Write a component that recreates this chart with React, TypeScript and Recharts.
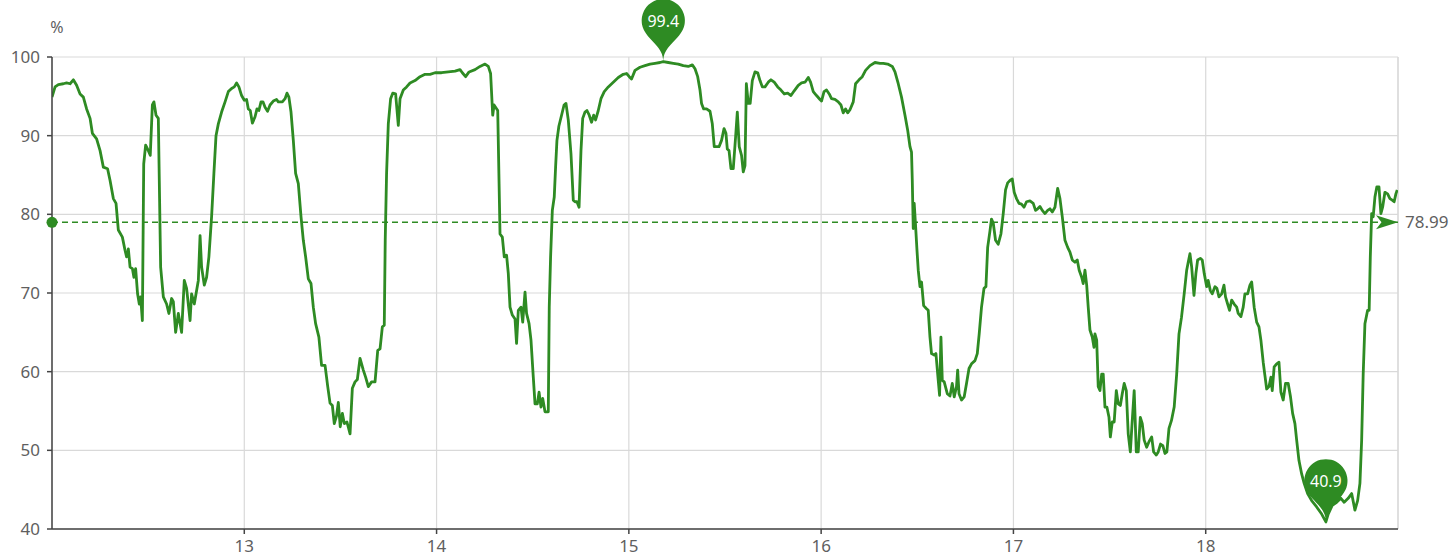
import React from 'react';
import { LineChart, Line, XAxis, YAxis, CartesianGrid, ReferenceLine, ReferenceDot } from 'recharts';

// readings: [day, relative humidity %]
const day12: [number, number][] = [
  [12.0, 94.9], [12.016, 96.2], [12.033, 96.5], [12.059, 96.6], [12.076, 96.7], [12.094, 96.6], [12.111, 97.1], [12.128, 96.4],
  [12.146, 95.3], [12.163, 94.9], [12.18, 93.4], [12.198, 92.2], [12.21, 90.3], [12.232, 89.6], [12.25, 88.1], [12.267, 86.0],
  [12.289, 85.8], [12.302, 84.3], [12.319, 82.0], [12.333, 81.4], [12.345, 78.0], [12.366, 77.1], [12.38, 75.4], [12.388, 74.6],
  [12.397, 75.6], [12.406, 73.3], [12.418, 73.1], [12.426, 72.0], [12.435, 73.1], [12.445, 69.9], [12.454, 68.6], [12.461, 69.5],
  [12.47, 66.5], [12.477, 86.4], [12.487, 88.8], [12.501, 88.1], [12.511, 87.5], [12.522, 93.9], [12.53, 94.3], [12.541, 92.6],
  [12.553, 92.2], [12.565, 73.3], [12.579, 69.5], [12.596, 68.6], [12.608, 67.4], [12.622, 69.3], [12.631, 68.9], [12.643, 65.0],
  [12.657, 67.4], [12.674, 65.0], [12.688, 71.6], [12.7, 70.6], [12.718, 66.5], [12.726, 69.9], [12.74, 68.6], [12.761, 71.6],
  [12.77, 77.3], [12.778, 73.3], [12.792, 71.0], [12.804, 72.0], [12.816, 74.6], [12.83, 79.7], [12.842, 85.2], [12.853, 90.0],
  [12.865, 91.5], [12.882, 93.0], [12.9, 94.3], [12.917, 95.6], [12.934, 96.0], [12.948, 96.2], [12.96, 96.7], [12.972, 96.2],
  [12.986, 95.1],
];
const day13: [number, number][] = [
  [13.0, 94.5], [13.012, 94.6], [13.021, 93.4], [13.031, 93.2], [13.042, 91.6], [13.056, 92.4], [13.066, 93.4], [13.076, 93.2],
  [13.087, 94.3], [13.097, 94.3], [13.108, 93.6], [13.121, 93.1], [13.134, 93.9], [13.151, 94.4], [13.168, 94.6], [13.177, 94.3],
  [13.198, 94.3], [13.212, 94.7], [13.222, 95.4], [13.232, 94.9], [13.243, 93.0], [13.255, 89.4], [13.267, 85.2], [13.281, 83.9],
  [13.295, 79.7], [13.307, 76.7], [13.319, 74.6], [13.333, 71.8], [13.347, 71.2], [13.359, 68.2], [13.371, 66.1], [13.388, 64.4],
  [13.402, 60.8], [13.42, 60.8], [13.434, 58.1], [13.446, 56.0], [13.458, 55.7], [13.468, 53.4], [13.48, 54.4], [13.489, 56.1],
  [13.499, 53.0], [13.51, 54.7], [13.52, 53.4], [13.534, 53.6], [13.55, 52.1], [13.562, 57.9], [13.576, 58.7], [13.588, 59.0],
  [13.602, 61.7], [13.619, 60.2], [13.631, 59.3], [13.645, 58.1], [13.662, 58.7], [13.68, 58.7], [13.694, 62.7], [13.706, 62.9],
  [13.718, 65.7], [13.728, 65.9], [13.733, 76.7], [13.74, 85.2], [13.749, 91.5], [13.761, 94.7], [13.772, 95.4], [13.787, 95.3],
  [13.801, 91.3], [13.81, 94.7], [13.827, 95.8], [13.844, 96.2], [13.862, 96.7], [13.888, 97.0], [13.914, 97.5], [13.94, 97.8],
  [13.966, 97.8], [13.992, 98.0],
];
const day14: [number, number][] = [
  [14.026, 98.0], [14.061, 98.1], [14.096, 98.2], [14.122, 98.4], [14.134, 98.0], [14.151, 97.5], [14.169, 98.1], [14.2, 98.4],
  [14.226, 98.8], [14.252, 99.1], [14.269, 98.8], [14.281, 97.9], [14.292, 92.6], [14.299, 93.9], [14.318, 93.2], [14.33, 77.5],
  [14.342, 77.1], [14.352, 74.6], [14.364, 74.8], [14.373, 72.5], [14.382, 68.2], [14.394, 67.2], [14.408, 66.7], [14.416, 63.6],
  [14.425, 67.8], [14.439, 68.2], [14.448, 66.3], [14.46, 70.1], [14.468, 67.4], [14.481, 66.1], [14.491, 64.0], [14.503, 59.3],
  [14.512, 55.9], [14.524, 55.9], [14.533, 57.4], [14.543, 55.5], [14.552, 56.6], [14.564, 54.9], [14.581, 54.9], [14.586, 68.2],
  [14.593, 74.6], [14.602, 80.5], [14.612, 82.2], [14.619, 86.0], [14.626, 89.4], [14.636, 91.2], [14.65, 92.6], [14.663, 93.9],
  [14.673, 94.1], [14.685, 92.0], [14.699, 87.7], [14.711, 81.8], [14.72, 81.6], [14.73, 81.6], [14.741, 80.9], [14.751, 88.1],
  [14.76, 92.2], [14.772, 93.0], [14.782, 93.2], [14.794, 92.6], [14.806, 91.7], [14.817, 92.6], [14.827, 92.0], [14.841, 93.2],
  [14.855, 94.7], [14.872, 95.6], [14.893, 96.2], [14.919, 96.8], [14.945, 97.4], [14.971, 97.8], [14.988, 97.9],
];
const day15: [number, number][] = [
  [15.002, 97.5], [15.014, 97.2], [15.032, 98.3], [15.058, 98.7], [15.084, 98.9], [15.11, 99.1], [15.136, 99.2], [15.162, 99.3],
  [15.179, 99.4], [15.205, 99.3], [15.231, 99.2], [15.257, 99.1], [15.283, 98.9], [15.309, 98.8], [15.33, 99.0], [15.344, 98.5],
  [15.358, 97.5], [15.37, 95.8], [15.378, 94.1], [15.389, 93.4], [15.404, 93.4], [15.422, 93.1], [15.434, 91.5], [15.444, 88.6],
  [15.456, 88.6], [15.469, 88.6], [15.482, 89.4], [15.495, 90.9], [15.505, 90.3], [15.512, 88.3], [15.521, 88.1], [15.531, 85.8],
  [15.543, 85.8], [15.555, 89.8], [15.564, 93.0], [15.574, 88.6], [15.586, 87.5], [15.595, 85.4], [15.604, 86.2], [15.611, 96.6],
  [15.621, 94.1], [15.631, 94.1], [15.642, 97.0], [15.656, 98.1], [15.67, 98.0], [15.682, 97.0], [15.694, 96.2], [15.708, 96.2],
  [15.725, 96.8], [15.739, 97.1], [15.756, 96.8], [15.774, 96.2], [15.791, 95.8], [15.808, 95.3], [15.826, 95.4], [15.843, 95.1],
  [15.86, 95.7], [15.881, 96.4], [15.898, 96.7], [15.916, 96.8], [15.933, 97.4], [15.945, 96.8], [15.959, 95.6], [15.976, 95.1],
  [15.994, 94.6],
];
const day16: [number, number][] = [
  [16.002, 94.4], [16.015, 95.6], [16.028, 95.8], [16.042, 95.3], [16.054, 94.7], [16.072, 94.6], [16.089, 94.3], [16.103, 93.9],
  [16.115, 92.9], [16.127, 93.4], [16.138, 92.9], [16.15, 93.3], [16.167, 94.3], [16.179, 96.6], [16.197, 97.1], [16.214, 97.5],
  [16.231, 98.3], [16.254, 98.9], [16.28, 99.3], [16.306, 99.2], [16.323, 99.2], [16.346, 99.1], [16.37, 98.8], [16.384, 98.1],
  [16.401, 96.6], [16.418, 94.9], [16.436, 92.6], [16.45, 90.7], [16.462, 88.6], [16.47, 87.9], [16.474, 84.3], [16.479, 78.2],
  [16.484, 81.4], [16.491, 78.6], [16.498, 75.6], [16.505, 72.9], [16.514, 70.8], [16.522, 71.4], [16.533, 68.4], [16.548, 68.0],
  [16.557, 67.8], [16.566, 64.4], [16.574, 62.3], [16.588, 62.1], [16.597, 62.3], [16.609, 58.9], [16.616, 57.0], [16.623, 64.4],
  [16.63, 58.9], [16.64, 58.7], [16.656, 57.2], [16.67, 56.9], [16.682, 58.5], [16.692, 56.8], [16.704, 58.1], [16.71, 60.2],
  [16.717, 57.2], [16.73, 56.4], [16.744, 56.8], [16.756, 58.5], [16.769, 60.4], [16.782, 61.0], [16.8, 61.4], [16.812, 62.3],
  [16.822, 64.8], [16.834, 68.2], [16.847, 70.6], [16.857, 70.8], [16.866, 75.8], [16.878, 77.9], [16.886, 79.4], [16.895, 78.9],
  [16.907, 76.7], [16.921, 76.2], [16.935, 77.5], [16.947, 80.1], [16.959, 83.1], [16.97, 84.0], [16.982, 84.3], [16.994, 84.5],
];
const day17: [number, number][] = [
  [17.004, 82.8], [17.016, 82.0], [17.029, 81.4], [17.042, 81.3], [17.055, 80.9], [17.068, 81.6], [17.086, 81.7], [17.103, 81.4],
  [17.115, 80.5], [17.126, 80.7], [17.138, 81.0], [17.15, 80.5], [17.164, 80.1], [17.178, 80.5], [17.19, 80.7], [17.202, 80.3],
  [17.216, 80.9], [17.23, 83.3], [17.242, 82.0], [17.254, 79.7], [17.268, 76.7], [17.282, 75.8], [17.294, 75.2], [17.306, 74.2],
  [17.32, 73.9], [17.332, 74.2], [17.342, 72.9], [17.355, 72.0], [17.363, 71.2], [17.372, 72.9], [17.381, 71.0], [17.389, 68.2],
  [17.398, 65.3], [17.41, 64.4], [17.419, 63.1], [17.424, 64.8], [17.433, 64.0], [17.441, 58.1], [17.45, 57.6], [17.459, 59.7],
  [17.467, 59.7], [17.476, 55.5], [17.486, 55.5], [17.497, 54.2], [17.504, 51.7], [17.514, 53.6], [17.524, 53.6], [17.535, 57.6],
  [17.545, 55.9], [17.556, 55.7], [17.566, 57.2], [17.576, 58.5], [17.587, 57.6], [17.597, 52.1], [17.608, 49.8], [17.618, 53.8],
  [17.628, 57.6], [17.639, 49.8], [17.649, 49.8], [17.66, 54.2], [17.67, 53.4], [17.68, 51.3], [17.693, 50.4], [17.705, 51.1],
  [17.719, 51.7], [17.729, 49.8], [17.743, 49.4], [17.753, 49.8], [17.765, 50.8], [17.777, 50.6], [17.788, 49.6], [17.798, 49.8],
  [17.809, 52.8], [17.822, 53.8], [17.836, 55.5], [17.849, 59.7], [17.861, 64.8], [17.874, 66.9], [17.888, 69.9], [17.901, 72.9],
  [17.909, 73.9], [17.918, 75.0], [17.927, 73.3], [17.939, 69.7], [17.949, 72.5], [17.958, 74.2], [17.972, 74.4], [17.982, 74.2],
  [17.992, 72.5],
];
const day18: [number, number][] = [
  [18.005, 70.8], [18.013, 71.6], [18.024, 70.3], [18.034, 69.9], [18.048, 70.8], [18.058, 70.6], [18.069, 69.5], [18.083, 69.9],
  [18.095, 71.0], [18.103, 69.5], [18.114, 68.6], [18.124, 67.8], [18.135, 69.1], [18.148, 68.6], [18.161, 68.2], [18.169, 67.4],
  [18.183, 67.0], [18.195, 68.2], [18.204, 69.9], [18.218, 69.9], [18.23, 71.0], [18.239, 71.4], [18.252, 68.2], [18.265, 66.3],
  [18.277, 65.7], [18.287, 64.0], [18.299, 61.2], [18.308, 59.5], [18.317, 57.8], [18.329, 58.1], [18.339, 59.3], [18.346, 57.6],
  [18.356, 60.6], [18.369, 61.0], [18.381, 61.2], [18.391, 57.4], [18.403, 56.4], [18.415, 58.5], [18.429, 58.5], [18.441, 56.8],
  [18.452, 54.7], [18.464, 53.4], [18.473, 51.3], [18.485, 48.7], [18.499, 47.0], [18.512, 45.8], [18.53, 44.5], [18.551, 43.6],
  [18.577, 42.8], [18.603, 41.9], [18.625, 40.9], [18.637, 41.9], [18.658, 43.0], [18.681, 43.4], [18.703, 43.9], [18.72, 43.4],
  [18.741, 43.9], [18.759, 44.5], [18.776, 42.4], [18.79, 43.6], [18.802, 45.8], [18.811, 51.3], [18.819, 59.7], [18.828, 66.1],
  [18.842, 67.8], [18.85, 67.8], [18.856, 74.6], [18.863, 80.1], [18.871, 79.7], [18.88, 82.2], [18.89, 83.5], [18.901, 83.5],
  [18.911, 80.1], [18.92, 80.9], [18.932, 82.8], [18.946, 82.6], [18.958, 82.0], [18.97, 81.8], [18.98, 81.6], [18.989, 82.6],
  [18.996, 83.1],
];

const xTicks = [13, 14, 15, 16, 17, 18];
const yTicks = [40, 50, 60, 70, 80, 90, 100];
const xDomain: [number, number] = [12, 19];
const yDomain: [number, number] = [40, 100];
const meanValue = 78.99;
const maxPoint = { t: 15.179, v: 99.4 };
const minPoint = { t: 18.625, v: 40.9 };
const unitLabel = '%';

const GREEN = '#2e8b23';
const AXIS = '#444444';
const LABEL = '#5f5f5f';
const GRID = '#d9d9d9';
const FONT = '"Noto Sans", "Open Sans", sans-serif';
const PIN_SIZE = 72;

const data = [...day12, ...day13, ...day14, ...day15, ...day16, ...day17, ...day18].map(([t, v]) => ({ t, v }));

function pinPath(x: number, y: number, size: number) {
  const w = size * 0.6;
  const h = size;
  const r = w / 2;
  const dy = (r * r) / (h - r);
  const cy = y - h + r + dy;
  const angle = Math.asin(dy / r);
  const dx = Math.cos(angle) * r;
  const tanX = Math.sin(angle);
  const tanY = Math.cos(angle);
  const cp = r * 0.6;
  const cp2 = r * 0.7;
  const d = `M ${x - dx} ${cy + dy} A ${r} ${r} 0 1 1 ${x + dx} ${cy + dy} C ${x + dx - tanX * cp} ${cy + dy + tanY * cp} ${x} ${y - cp2} ${x} ${y} C ${x} ${y - cp2} ${x - dx + tanX * cp} ${cy + dy + tanY * cp} ${x - dx} ${cy + dy} Z`;
  return { d, cy };
}

const makePin = (text: string) => (props: any) => {
  const { cx, cy } = props;
  if (cx == null || cy == null) return <g />;
  const p = pinPath(cx, cy, PIN_SIZE);
  return (
    <g>
      <path d={p.d} fill={GREEN} />
      <text x={cx} y={p.cy} fill="#fff" textAnchor="middle" dominantBaseline="central" fontSize={16} fontFamily={FONT}>
        {text}
      </text>
    </g>
  );
};

const StartCircle = (props: any) => {
  const { cx, cy } = props;
  if (cx == null) return <g />;
  return <circle cx={cx} cy={cy} r={5.5} fill={GREEN} />;
};

const EndArrow = (props: any) => {
  const { cx, cy } = props;
  if (cx == null) return <g />;
  const L = 22;
  const W = 7;
  return <path d={`M ${cx} ${cy} L ${cx - L} ${cy - W} L ${cx - L * 0.75} ${cy} L ${cx - L} ${cy + W} Z`} fill={GREEN} />;
};

export default function App() {
  return (
    <div style={{ position: 'absolute', left: 0, top: 0, width: 1453, height: 556, background: '#fff' }}>
      <span
        style={{
          position: 'absolute',
          left: 57,
          top: 27,
          transform: 'translate(-50%, -50%)',
          fontFamily: FONT,
          fontSize: 16,
          color: LABEL,
        }}
      >
        {unitLabel}
      </span>
      <LineChart width={1453} height={556} data={data} margin={{ top: 57, right: 55, bottom: 0, left: 0 }} style={{ fontFamily: FONT }}>
        <CartesianGrid stroke={GRID} strokeWidth={1.2} />
        <XAxis
          dataKey="t"
          type="number"
          domain={xDomain}
          ticks={xTicks}
          allowDataOverflow
          height={27}
          tickSize={5}
          tickMargin={6}
          stroke={AXIS}
          strokeWidth={1.5}
          tick={{ fill: LABEL, fontSize: 17 }}
        />
        <YAxis
          type="number"
          domain={yDomain}
          ticks={yTicks}
          width={52}
          tickSize={5}
          tickMargin={7}
          stroke={AXIS}
          strokeWidth={1.5}
          tick={{ fill: LABEL, fontSize: 17 }}
          interval={0}
        />
        <ReferenceLine x={19} stroke={GRID} strokeWidth={1.2} />
        <ReferenceLine
          y={meanValue}
          stroke={GREEN}
          strokeWidth={1.5}
          strokeDasharray="6 4"
          label={{ value: meanValue.toFixed(2), position: 'right', fill: LABEL, fontSize: 17, offset: 7 }}
        />
        <Line
          type="linear"
          dataKey="v"
          stroke={GREEN}
          strokeWidth={2.8}
          strokeLinejoin="round"
          dot={false}
          activeDot={false}
          isAnimationActive={false}
        />
        <ReferenceDot x={xDomain[0]} y={meanValue} ifOverflow="visible" shape={StartCircle} />
        <ReferenceDot x={xDomain[1]} y={meanValue} ifOverflow="visible" shape={EndArrow} />
        <ReferenceDot x={maxPoint.t} y={maxPoint.v} ifOverflow="visible" shape={makePin(String(maxPoint.v))} />
        <ReferenceDot x={minPoint.t} y={minPoint.v} ifOverflow="visible" shape={makePin(String(minPoint.v))} />
      </LineChart>
    </div>
  );
}
